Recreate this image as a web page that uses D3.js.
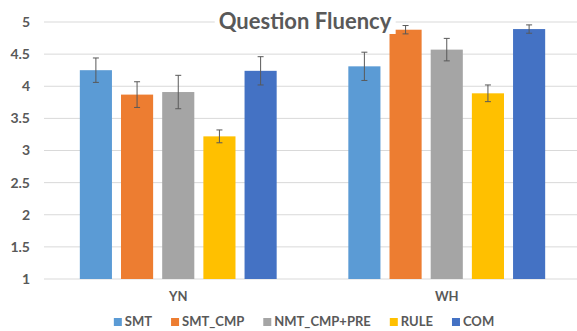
<!DOCTYPE html>
<html>
<head>
<meta charset="utf-8">
<script src="https://cdn.jsdelivr.net/npm/d3@7"></script>
<style>
  body { margin: 0; background: #fff; }
  text { font-family: Lato, "Open Sans", sans-serif; fill: #595959; }
</style>
</head>
<body>
<div id="chart-area"></div>
<script>
// data
var groups = ["YN", "WH"];
var systems = ["SMT", "SMT_CMP", "NMT_CMP+PRE", "RULE", "COM"];
var colors = ["#5B9BD5", "#ED7D31", "#A5A5A5", "#FFC000", "#4472C4"];
var ynMeans = [4.25, 3.87, 3.91, 3.22, 4.24];
var ynErr = [0.19, 0.20, 0.26, 0.10, 0.22];
var whMeans = [4.31, 4.88, 4.57, 3.89, 4.89];
var whErr = [0.22, 0.065, 0.175, 0.13, 0.065];
var yTicks = [1, 1.5, 2, 2.5, 3, 3.5, 4, 4.5, 5];

var W = 577, H = 331;
var margin = { top: 22, bottom: 52, left: 44, right: -4 };
var width = W - margin.left - margin.right,
    height = H - margin.top - margin.bottom;

var svg = d3.select("#chart-area")
    .append("svg")
        .attr("width", W)
        .attr("height", H);

var g = svg.append("g")
    .attr("transform", "translate(" + margin.left + "," + margin.top + ")");

var rows = [];
groups.forEach(function(gr, gi) {
    var means = gi === 0 ? ynMeans : whMeans;
    var errs = gi === 0 ? ynErr : whErr;
    systems.forEach(function(s, i) {
        rows.push({ group: gr, sys: s, mean: means[i], err: errs[i], color: colors[i] });
    });
});

var x0 = d3.scaleBand()
    .domain(groups)
    .range([0, width]);

var x1 = d3.scaleBand()
    .domain(systems)
    .range([0, x0.bandwidth()])
    .paddingInner(0.22)
    .paddingOuter(0.87);

var y = d3.scaleLinear()
    .domain([1, 5])
    .range([height, 0]);

// gridlines
g.append("g")
    .selectAll("line")
    .data(yTicks)
    .enter()
    .append("line")
        .attr("x1", 0)
        .attr("x2", width)
        .attr("y1", function(d) { return y(d); })
        .attr("y2", function(d) { return y(d); })
        .attr("stroke", "#D9D9D9")
        .attr("stroke-width", 1);

// y axis labels
var yAxis = d3.axisLeft(y)
    .tickValues(yTicks)
    .tickSize(0)
    .tickPadding(14)
    .tickFormat(function(d) { return d; });
g.append("g")
    .attr("class", "y-axis")
    .call(yAxis)
    .call(function(a) { a.select(".domain").remove(); })
    .selectAll("text")
        .style("font-size", "14px")
        .style("font-weight", "bold")
        .attr("fill", "#595959");

// x axis labels
var xAxis = d3.axisBottom(x0).tickSize(0).tickPadding(13);
g.append("g")
    .attr("transform", "translate(0," + height + ")")
    .call(xAxis)
    .call(function(a) { a.select(".domain").remove(); })
    .selectAll("text")
        .style("font-size", "13px")
        .style("font-weight", "bold")
        .attr("fill", "#595959");

// bars
var bars = g.selectAll(".bar")
    .data(rows)
    .enter()
    .append("g")
        .attr("class", "bar")
        .attr("transform", function(d) { return "translate(" + (x0(d.group) + x1(d.sys)) + ",0)"; });

bars.append("rect")
    .attr("x", 0)
    .attr("y", function(d) { return y(d.mean); })
    .attr("width", x1.bandwidth())
    .attr("height", function(d) { return height - y(d.mean); })
    .attr("fill", function(d) { return d.color; });

// error bars
var cx = x1.bandwidth() / 2;
bars.append("line")
    .attr("x1", cx).attr("x2", cx)
    .attr("y1", function(d) { return y(d.mean + d.err); })
    .attr("y2", function(d) { return y(d.mean - d.err); })
    .attr("stroke", "#595959");
bars.append("line")
    .attr("x1", cx - 3).attr("x2", cx + 3)
    .attr("y1", function(d) { return y(d.mean + d.err); })
    .attr("y2", function(d) { return y(d.mean + d.err); })
    .attr("stroke", "#595959");
bars.append("line")
    .attr("x1", cx - 3).attr("x2", cx + 3)
    .attr("y1", function(d) { return y(d.mean - d.err); })
    .attr("y2", function(d) { return y(d.mean - d.err); })
    .attr("stroke", "#595959");

// title with white box behind it
var titleBox = svg.append("rect").attr("fill", "#fff");
var title = svg.append("text")
    .attr("x", 305)
    .attr("y", 29)
    .attr("text-anchor", "middle")
    .style("font-size", "22px")
    .style("font-weight", "bold")
    .text("Question Fluency");
var tb = title.node().getBBox();
titleBox
    .attr("x", tb.x - 4)
    .attr("y", tb.y)
    .attr("width", tb.width + 8)
    .attr("height", tb.height);

// legend
var legend = svg.append("g").attr("class", "legend");
var lx = 0;
systems.forEach(function(s, i) {
    var item = legend.append("g").attr("transform", "translate(" + lx + ",0)");
    item.append("rect")
        .attr("x", 0).attr("y", -8)
        .attr("width", 8).attr("height", 8)
        .attr("fill", colors[i]);
    var t = item.append("text")
        .attr("x", 11).attr("y", 0)
        .style("font-size", "13px")
        .style("font-weight", "bold")
        .text(s);
    lx += 11 + t.node().getComputedTextLength() + 19;
});
lx -= 19;
legend.attr("transform", "translate(" + (304 - lx / 2) + ",326)");
</script>
</body>
</html>
